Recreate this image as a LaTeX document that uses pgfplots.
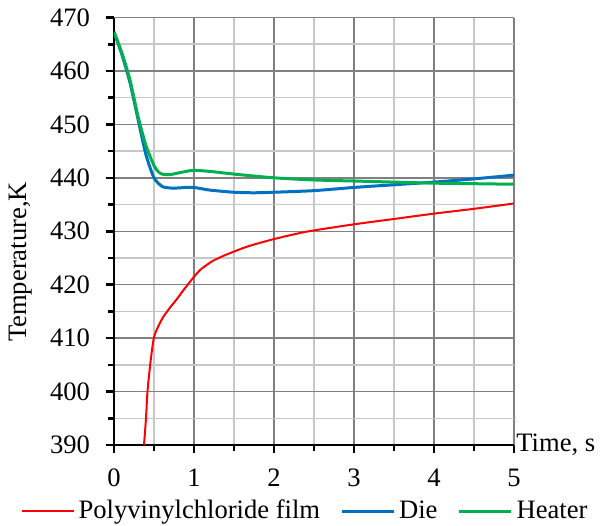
\documentclass[border=0pt]{standalone}
\usepackage{pgfplots}
\pgfplotsset{compat=1.18}
\usepackage{fontspec}
\setmainfont{Liberation Serif}
\newfontfamily\tnr{Liberation Serif}
\definecolor{pvc}{RGB}{255,0,0}
\definecolor{die}{RGB}{0,112,192}
\definecolor{heater}{RGB}{0,176,80}
\begin{document}
\begin{tikzpicture}
\begin{axis}[
  scale only axis,
  width=200pt, height=213.75pt,
  xmin=0, xmax=5, ymin=390, ymax=470,
  xtick={0,1,2,3,4,5}, ytick={390,400,...,470},
  xticklabels={0,1,2,3,4,5},
  yticklabels={390,400,410,420,430,440,450,460,470},
  minor x tick num=1, minor y tick num=1,
  grid=both,
  major grid style={line width=0.75pt, color=black!50},
  minor grid style={line width=0.75pt, color=black!22},
  axis x line*=bottom, axis y line*=left,
  x axis line style={-, line width=1.3pt, black},
  y axis line style={-, line width=1.3pt, black},
  tick align=outside,
  major tick length=4pt, minor tick length=3pt,
  tick style={line width=1.3pt, black},
  font=\tnr\fontsize{13.3}{15}\selectfont,
  ticklabel style={font=\tnr\fontsize{13.3}{15}\selectfont},
  xticklabel style={yshift=-4.5pt},
  yticklabel style={xshift=-4.5pt},
  xlabel={Time, s},
  xlabel style={at={(axis description cs:1,0)}, anchor=west, inner sep=1pt},
  ylabel={Temperature,K},
  ylabel style={at={(axis description cs:-0.2325,0.428)}, anchor=center},
  legend columns=3,
  legend style={draw=none, fill=none, at={(axis description cs:0.48,0)}, anchor=center, yshift=-33pt,
    font=\tnr\fontsize{13.3}{15}\selectfont,
    /tikz/every even column/.append style={column sep=8pt}},
  legend image code/.code={\draw[#1] (0pt,0pt) -- (26pt,0pt);},
  clip=true,
]
\addplot[pvc, line width=1pt, smooth, tension=0.4] coordinates {
(0.375,390) (0.40,395) (0.42,400.3) (0.46,406) (0.50,410.2) (0.56,412.4) (0.617,414.0)
(0.70,415.7) (0.78,417.2) (0.88,419.2) (0.99,421.3) (1.08,422.8) (1.16,423.7) (1.24,424.5)
(1.4,425.6) (1.66,427.1) (1.99,428.5) (2.4,429.9) (3.0,431.3) (3.5,432.3) (4.0,433.3) (4.5,434.2) (5.0,435.2)
};
\addlegendentry{Polyvinylchloride film}
\addplot[die, line width=1.5pt, smooth, tension=0.4] coordinates {
(0,467.3) (0.1,463) (0.2,457.8) (0.3,451) (0.4,444.3) (0.5,440) (0.6,438.4) (0.7,438.1)
(0.8,438.1) (0.9,438.2) (1.0,438.2) (1.2,437.7) (1.5,437.3) (1.75,437.2) (2.0,437.3)
(2.5,437.6) (3.0,438.2) (3.5,438.7) (4.0,439.2) (4.5,439.8) (5.0,440.5)
};
\addlegendentry{Die}
\addplot[heater, line width=1.5pt, smooth, tension=0.4] coordinates {
(0,467.3) (0.1,463.3) (0.2,458.3) (0.3,451.5) (0.4,446) (0.5,442.3) (0.55,441.2) (0.6,440.7)
(0.7,440.6) (0.8,440.9) (0.9,441.2) (1.0,441.4) (1.2,441.2) (1.5,440.7) (2.0,440.0)
(2.5,439.6) (3.0,439.4) (3.5,439.2) (4.0,439.0) (4.5,438.9) (5.0,438.8)
};
\addlegendentry{Heater}
\coordinate (sw) at (rel axis cs:0,0);
\end{axis}
\pgfresetboundingbox
\path (sw) ++(-57pt,-40.5pt) rectangle ++(306pt,263pt);
\end{tikzpicture}
\end{document}
